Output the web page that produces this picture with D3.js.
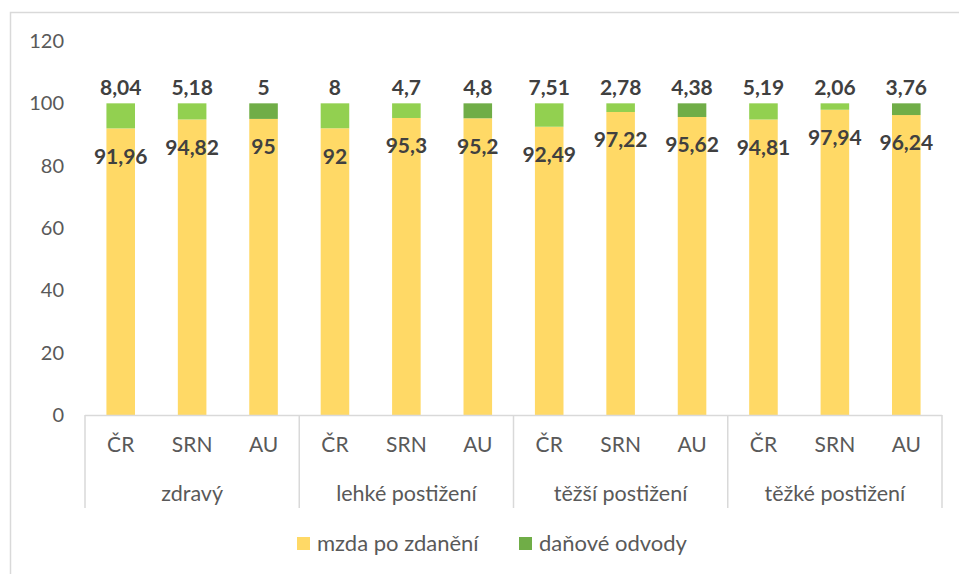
<!DOCTYPE html>
<html>
<head>
<meta charset="utf-8">
<script src="https://cdn.jsdelivr.net/npm/d3@7"></script>
<style>
  body { margin: 0; background: #fff; }
  text { font-family: Lato, "Open Sans", sans-serif; }
</style>
</head>
<body>
<script>
// data
var groups = ["zdravý", "lehké postižení", "těžší postižení", "těžké postižení"];
var countries = ["ČR", "SRN", "AU"];
var netWage = [91.96, 94.82, 95, 92, 95.3, 95.2, 92.49, 97.22, 95.62, 94.81, 97.94, 96.24];
var taxes = [8.04, 5.18, 5, 8, 4.7, 4.8, 7.51, 2.78, 4.38, 5.19, 2.06, 3.76];
var yTicks = [0, 20, 40, 60, 80, 100, 120];
var seriesNames = ["mzda po zdanění", "daňové odvody"];

var width = 959, height = 574;
var plot = {left: 85, right: 942, top: 41, bottom: 415};

var yellow = "#FFD966", lightGreen = "#92D050", darkGreen = "#70AD47";
var textGray = "#595959";

var svg = d3.select("body").append("svg")
    .attr("width", width)
    .attr("height", height);

// chart frame (only top and left edge visible)
svg.append("rect")
    .attr("x", 10.5).attr("y", 12.5)
    .attr("width", 1000).attr("height", 1000)
    .attr("fill", "none")
    .attr("stroke", "#D9D9D9")
    .attr("stroke-width", 1.5);

var bars = [];
netWage.forEach(function(v, i) {
    bars.push({
        key: i,
        group: groups[Math.floor(i / 3)],
        country: countries[i % 3],
        net: v,
        tax: taxes[i]
    });
});

var x = d3.scaleBand()
    .domain(bars.map(d => d.key))
    .range([plot.left, plot.right])
    .paddingInner(0.6)
    .paddingOuter(0.3);

var xGroup = d3.scaleBand()
    .domain(groups)
    .range([plot.left, plot.right]);

var y = d3.scaleLinear()
    .domain([0, 120])
    .range([plot.bottom, plot.top]);

// y axis labels
var yAxis = svg.append("g")
    .attr("transform", "translate(" + (plot.left - 21) + ",0)")
    .call(d3.axisLeft(y).tickValues(yTicks).tickSize(0).tickPadding(0));
yAxis.select(".domain").remove();
yAxis.selectAll("text")
    .attr("fill", textGray)
    .style("font-size", "20px")
    .style("font-family", "Lato, 'Open Sans', sans-serif");

// bars
var barG = svg.selectAll(".bar")
    .data(bars)
    .enter().append("g")
    .attr("class", "bar");

barG.append("rect")
    .attr("x", d => x(d.key))
    .attr("width", x.bandwidth())
    .attr("y", d => y(d.net))
    .attr("height", d => y(0) - y(d.net))
    .attr("fill", yellow);

barG.append("rect")
    .attr("x", d => x(d.key))
    .attr("width", x.bandwidth())
    .attr("y", d => y(d.net + d.tax))
    .attr("height", d => y(d.net) - y(d.net + d.tax))
    .attr("fill", d => d.country == "AU" ? darkGreen : lightGreen);

var fmt = function(v) { return String(v).replace(".", ","); };

// data labels
barG.append("text")
    .attr("x", d => x(d.key) + x.bandwidth() / 2)
    .attr("y", d => y(d.net) + 28)
    .attr("dy", "0.35em")
    .attr("text-anchor", "middle")
    .attr("fill", "#404040")
    .style("font-size", "21px")
    .style("font-weight", "bold")
    .text(d => fmt(d.net));

barG.append("text")
    .attr("x", d => x(d.key) + x.bandwidth() / 2)
    .attr("y", y(100) - 16)
    .attr("dy", "0.35em")
    .attr("text-anchor", "middle")
    .attr("fill", "#404040")
    .style("font-size", "21px")
    .style("font-weight", "bold")
    .text(d => fmt(d.tax));

// category axis
var axisColor = "#D9D9D9";
svg.append("line")
    .attr("x1", plot.left).attr("x2", plot.right)
    .attr("y1", plot.bottom + 0.5).attr("y2", plot.bottom + 0.5)
    .attr("stroke", axisColor).attr("stroke-width", 1.5);

var seps = groups.map(g => xGroup(g)).concat([plot.right]);
svg.selectAll(".sep")
    .data(seps)
    .enter().append("line")
    .attr("class", "sep")
    .attr("x1", d => d).attr("x2", d => d)
    .attr("y1", plot.bottom).attr("y2", 508)
    .attr("stroke", axisColor).attr("stroke-width", 1.5);

svg.selectAll(".country")
    .data(bars)
    .enter().append("text")
    .attr("class", "country")
    .attr("x", d => x(d.key) + x.bandwidth() / 2)
    .attr("y", 445)
    .attr("dy", "0.35em")
    .attr("text-anchor", "middle")
    .attr("fill", textGray)
    .style("font-size", "21px")
    .text(d => d.country);

svg.selectAll(".group")
    .data(groups)
    .enter().append("text")
    .attr("class", "group")
    .attr("x", d => xGroup(d) + xGroup.bandwidth() / 2)
    .attr("y", 493)
    .attr("dy", "0.35em")
    .attr("text-anchor", "middle")
    .attr("fill", textGray)
    .style("font-size", "21.5px")
    .text(d => d);

// legend
var legendX = [297, 519];
var legendColors = [yellow, darkGreen];
var legend = svg.selectAll(".legend")
    .data(seriesNames)
    .enter().append("g")
    .attr("class", "legend")
    .attr("transform", (d, i) => "translate(" + legendX[i] + ",543)");

legend.append("rect")
    .attr("x", 0).attr("y", -6)
    .attr("width", 13).attr("height", 13)
    .attr("fill", (d, i) => legendColors[i]);

legend.append("text")
    .attr("x", 20)
    .attr("y", 0)
    .attr("dy", "0.35em")
    .attr("fill", textGray)
    .style("font-size", "22px")
    .text(d => d);
</script>
</body>
</html>
